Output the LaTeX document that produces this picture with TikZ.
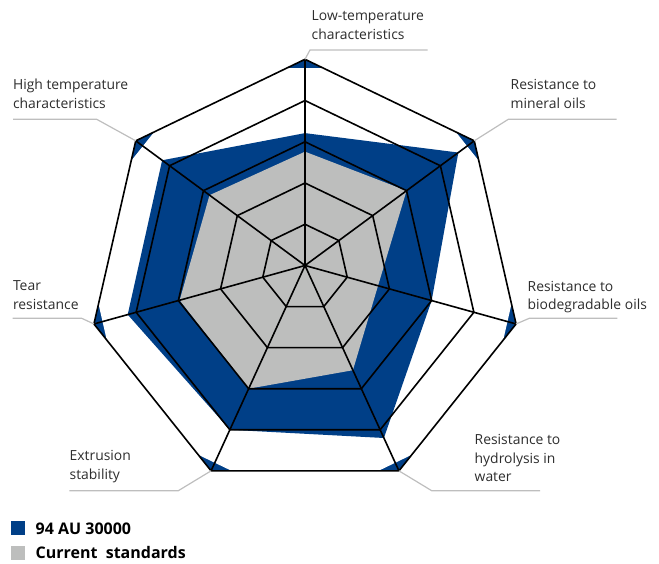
\documentclass[tikz,border=0pt]{standalone}
\usepackage{fontspec}
\newfontfamily\osans{Open Sans}
\usetikzlibrary{calc}
\definecolor{bluefill}{RGB}{0,63,135}
\definecolor{grayfill}{RGB}{189,190,189}
\definecolor{leadergray}{RGB}{190,190,190}
\definecolor{txt}{RGB}{45,45,45}
\tikzset{
  gridline/.style={line width=1.6pt, line join=miter},
  leader/.style={draw=leadergray, line width=1.2pt},
  lbl/.style={anchor=base west, inner sep=0pt, text=txt, font=\osans\fontsize{13.9}{18.8}\selectfont},
  lgtext/.style={anchor=base west, inner sep=0pt, text=black, font=\osans\bfseries\fontsize{16}{18}\selectfont},
  lgbox/.style={minimum size=13.5pt, inner sep=0pt, anchor=north west}
}
\begin{document}
\begin{tikzpicture}[x=1pt,y=-1pt]
\useasboundingbox (0,0) rectangle (659,564);
\coordinate (C) at (305,265.5);
\foreach \k in {1,...,5}{
  \foreach \i in {0,...,6}{
    \coordinate (g-\k-\i) at ({305+\k*43.3*cos(90-\i*360/7)}, {265.5-\k*43.3*sin(90-\i*360/7)+\k*2.06});
  }
}
% data points
\foreach \v [count=\i from 0] in {3.21,4.53,3.0,4.2,4.0,4.2,4.22}{
  \coordinate (b\i) at ({305+\v*43.3*cos(90-\i*360/7)}, {265.5-\v*43.3*sin(90-\i*360/7)+\v*2.06});
}
\foreach \v [count=\i from 0] in {2.76,3.0,1.73,2.55,3.0,2.97,2.82}{
  \coordinate (s\i) at ({305+\v*43.3*cos(90-\i*360/7)}, {265.5-\v*43.3*sin(90-\i*360/7)+\v*2.06});
}
% outer blue corners
\fill[bluefill] (g-5-0) \foreach \i in {1,...,6}{ -- (g-5-\i) } -- cycle;
\fill[white] ({305+230.4*cos(90+180/7)}, {275.8-230.4*sin(90+180/7)})
  \foreach \k in {1,...,6}{ -- ({305+230.4*cos(90+180/7+\k*360/7)}, {275.8-230.4*sin(90+180/7+\k*360/7)}) } -- cycle;
% data
\fill[bluefill] (b0) \foreach \i in {1,...,6}{ -- (b\i) } -- cycle;
\fill[grayfill] (s0) \foreach \i in {1,...,6}{ -- (s\i) } -- cycle;
% grid
\foreach \k in {1,...,5}{
  \draw[gridline] (g-\k-0) \foreach \i in {1,...,6}{ -- (g-\k-\i) } -- cycle;
}
\foreach \i in {0,...,6}{
  \draw[gridline] (C) -- (g-5-\i);
}
% leaders
\coordinate (e0a) at (310,50);   \coordinate (e0b) at (427.7,50);
\coordinate (e1a) at (508.3,119.3); \coordinate (e1b) at (616.7,119.3);
\coordinate (e2a) at (529.3,318.3); \coordinate (e2b) at (617.3,318.3);
\coordinate (e3a) at (431.7,490.7); \coordinate (e3b) at (540,490.7);
\coordinate (e4a) at (178.3,490.7); \coordinate (e4b) at (69.3,490.7);
\coordinate (e5a) at (81.7,318.3);  \coordinate (e5b) at (12.7,318.3);
\coordinate (e6a) at (96.7,119.3);  \coordinate (e6b) at (13,119.3);
\foreach \i in {0,...,6}{
  \draw[leader] (g-5-\i) -- (e\i a) -- (e\i b);
}
% labels
\node[lbl] (l0) at (311.5,21) {\begin{tabular}[t]{@{}l@{}}Low-temperature\\characteristics\end{tabular}};
\node[lbl] (l1) at (510.5,90) {\begin{tabular}[t]{@{}l@{}}Resistance to\\mineral oils\end{tabular}};
\node[lbl] (l2) at (527.5,291) {\begin{tabular}[t]{@{}l@{}}Resistance to\\biodegradable oils\end{tabular}};
\node[lbl] (l3) at (474.5,444.3) {\begin{tabular}[t]{@{}l@{}}Resistance to\\hydrolysis in\\water\end{tabular}};
\node[lbl] (l4) at (69.5,460.7) {\begin{tabular}[t]{@{}l@{}}Extrusion\\stability\end{tabular}};
\node[lbl] (l5) at (12.8,290.7) {\begin{tabular}[t]{@{}l@{}}Tear\\resistance\end{tabular}};
\node[lbl] (l6) at (12.8,90) {\begin{tabular}[t]{@{}l@{}}High temperature\\characteristics\end{tabular}};
% legend
\node[lgbox, fill=bluefill] (k1) at (11,521) {};
\node[lgtext] (t1) at (35.5,534.3) {94 AU 30000};
\node[lgbox, fill=grayfill] (k2) at (11,546) {};
\node[lgtext] (t2) at (35.5,558.7) {Current\ \ standards};
\end{tikzpicture}
\end{document}
